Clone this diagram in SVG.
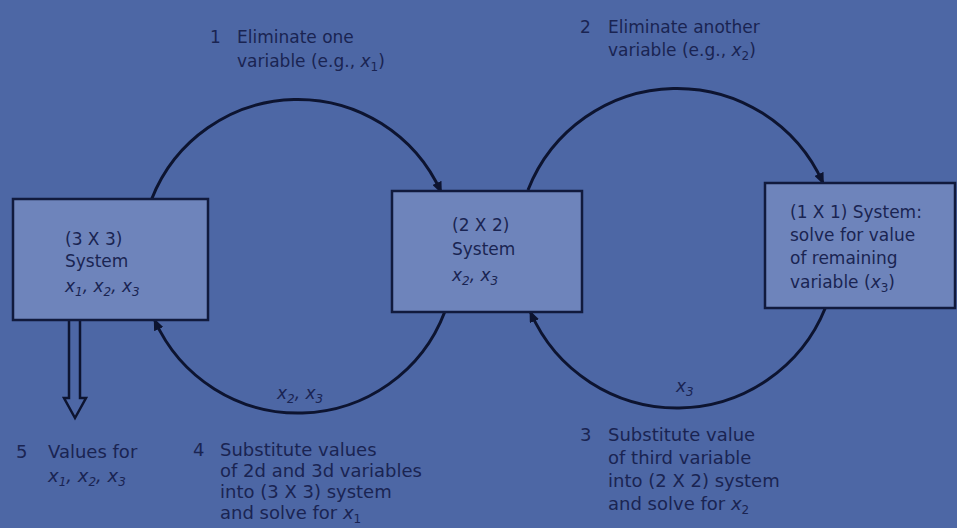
<svg xmlns="http://www.w3.org/2000/svg" width="957" height="528" viewBox="0 0 957 528">
<defs>
<style>
.t{font-family:"DejaVu Sans",sans-serif;font-size:17px;fill:#1a2452}
.b{font-size:18px}
.v{font-style:italic}
.box{fill:#6e84bb;stroke:#111a3d;stroke-width:2.5}
.arc{fill:none;stroke:#0d1430;stroke-width:3}
</style>
<marker id="ah" markerWidth="12" markerHeight="10" refX="10" refY="5" orient="auto" markerUnits="userSpaceOnUse">
<path d="M0,0 L12,5 L0,10 Z" fill="#0d1430"/>
</marker>
</defs>
<rect width="957" height="528" fill="#4d67a5"/>

<g id="connectors">
<path class="arc" d="M151.7,199 A157,157 0 0 1 441,192" marker-end="url(#ah)"/>
<path class="arc" d="M444.7,312 A157,157 0 0 1 154.6,320" marker-end="url(#ah)"/>
<path class="arc" d="M528,190 A160,160 0 0 1 823,183" marker-end="url(#ah)"/>
<path class="arc" d="M825.3,308 A160,160 0 0 1 530.4,312" marker-end="url(#ah)"/>
<path d="M69,320 V398 H64 L75,418 L86,398 H80 V320" fill="none" stroke="#0d1430" stroke-width="2.5" stroke-linejoin="miter"/>
</g>

<g id="box1">
<rect class="box" x="13" y="199" width="195" height="121"/>
<text class="t" x="65" y="245">(3 X 3)</text>
<text class="t" x="65" y="267">System</text>
<text class="t v" x="65" y="292">x<tspan font-size="12" dy="4">1</tspan><tspan dy="-4">, x</tspan><tspan font-size="12" dy="4">2</tspan><tspan dy="-4">, x</tspan><tspan font-size="12" dy="4">3</tspan></text>
</g>

<g id="box2">
<rect class="box" x="392" y="191" width="190" height="121"/>
<text class="t" x="452" y="231">(2 X 2)</text>
<text class="t" x="452" y="255">System</text>
<text class="t v" x="452" y="281">x<tspan font-size="12" dy="4">2</tspan><tspan dy="-4">, x</tspan><tspan font-size="12" dy="4">3</tspan></text>
</g>

<g id="box3">
<rect class="box" x="765" y="183" width="190" height="125"/>
<text class="t" x="790" y="218">(1 X 1) System:</text>
<text class="t" x="790" y="241">solve for value</text>
<text class="t" x="790" y="264">of remaining</text>
<text class="t" x="790" y="288">variable (<tspan class="v">x</tspan><tspan font-size="12" dy="4">3</tspan><tspan dy="-4">)</tspan></text>
</g>

<g id="label1">
<text class="t" x="210" y="43">1</text>
<text class="t" x="237" y="43">Eliminate one</text>
<text class="t" x="237" y="67">variable (e.g., <tspan class="v">x</tspan><tspan font-size="12" dy="4">1</tspan><tspan dy="-4">)</tspan></text>
</g>

<g id="label2">
<text class="t" x="580" y="33">2</text>
<text class="t" x="608" y="33">Eliminate another</text>
<text class="t" x="608" y="56">variable (e.g., <tspan class="v">x</tspan><tspan font-size="12" dy="4">2</tspan><tspan dy="-4">)</tspan></text>
</g>

<g id="arclabel-left">
<text class="t v" x="277" y="399">x<tspan font-size="12" dy="4">2</tspan><tspan dy="-4">, x</tspan><tspan font-size="12" dy="4">3</tspan></text>
</g>
<g id="arclabel-right">
<text class="t v" x="676" y="392">x<tspan font-size="12" dy="4">3</tspan></text>
</g>

<g id="label5">
<text class="t b" x="16" y="458">5</text>
<text class="t b" x="48" y="458">Values for</text>
<text class="t b v" x="48" y="482">x<tspan font-size="12" dy="4">1</tspan><tspan dy="-4">, x</tspan><tspan font-size="12" dy="4">2</tspan><tspan dy="-4">, x</tspan><tspan font-size="12" dy="4">3</tspan></text>
</g>

<g id="label4">
<text class="t b" x="193" y="456">4</text>
<text class="t b" x="220" y="456">Substitute values</text>
<text class="t b" x="220" y="477">of 2d and 3d variables</text>
<text class="t b" x="220" y="498">into (3 X 3) system</text>
<text class="t b" x="220" y="519">and solve for <tspan class="v">x</tspan><tspan font-size="12" dy="4">1</tspan></text>
</g>

<g id="label3">
<text class="t b" x="580" y="441">3</text>
<text class="t b" x="608" y="441">Substitute value</text>
<text class="t b" x="608" y="464">of third variable</text>
<text class="t b" x="608" y="487">into (2 X 2) system</text>
<text class="t b" x="608" y="510">and solve for <tspan class="v">x</tspan><tspan font-size="12" dy="4">2</tspan></text>
</g>
</svg>
